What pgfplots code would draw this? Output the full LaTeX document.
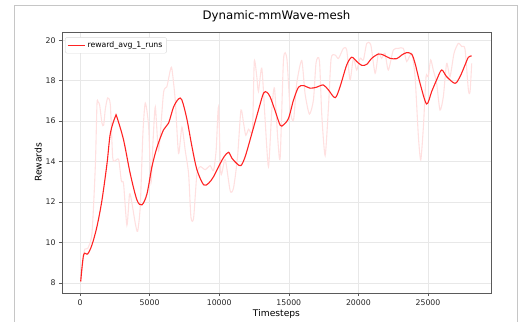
\documentclass[border=0pt]{standalone}
\usepackage{pgfplots}
\pgfplotsset{compat=1.18}
\usepackage{fontspec}
\setmainfont{DejaVu Sans}
\definecolor{smooth}{RGB}{255,35,35}
\definecolor{raw}{RGB}{255,224,224}
\definecolor{axgray}{RGB}{90,90,90}
\begin{document}
\begin{tikzpicture}
\path[use as bounding box] (0,0) rectangle (531bp,322bp);
\draw[gray!45, line width=0.8bp] (14bp,0) -- (14bp,317bp) -- (517bp,317bp) -- (517bp,0);
\begin{axis}[
  at={(62bp,29bp)}, anchor=south west,
  scale only axis, width=429bp, height=261bp,
  xmin=-1293, xmax=29526, ymin=7.5, ymax=20.41,
  xtick={0,5000,10000,15000,20000,25000},
  ytick={8,10,12,14,16,18,20},
  xtick pos=lower, ytick pos=left,
  scaled x ticks=false,
  xticklabel style={/pgf/number format/1000 sep={}},
  /pgf/number format/assume math mode=true,
  tick label style={font=\fontsize{7.8}{9}\selectfont, text=black!85},
  tick align=outside, major tick length=3bp,
  tick style={axgray, line width=0.6bp},
  axis line style={axgray, line width=0.8bp},
  grid=major, grid style={gray!18, line width=0.6bp},
  title={Dynamic-mmWave-mesh},
  title style={font=\fontsize{11.8}{13}\selectfont, at={(0.5,1)}, anchor=south, yshift=1bp},
  xlabel={Timesteps}, ylabel={Rewards},
  xlabel style={font=\fontsize{9.2}{11}\selectfont, yshift=3bp},
  ylabel style={font=\fontsize{9.2}{11}\selectfont, yshift=-3bp},
  legend style={at={(0.007,0.98)}, anchor=north west, font=\fontsize{7.8}{9}\selectfont,
    draw=gray!30, rounded corners=2bp, inner sep=2.2bp},
  legend cell align=left,
]
\addplot[raw, line width=1.1bp, forget plot, smooth, tension=0.4] coordinates {
(50,8.07)(310,9.6)(550,9.7)(860,10.45)(1100,13.75)(1220,16.85)(1300,16.95)(1410,16.8)(1580,15.9)(1700,15.8)(1820,16.6)(1990,17.15)(2180,16.8)(2350,14.2)(2540,14.05)(2780,14.1)(2970,13.05)(3130,12.9)(3370,10.85)(3560,12.4)(3730,11.95)(3970,10.95)(4140,10.55)(4330,11.8)(4520,15.4)(4690,16.9)(4930,15.75)(5100,12.95)(5240,14.9)(5410,16.7)(5650,14.55)(6000,17.4)(6240,17.7)(6480,18.5)(6600,18.6)(6840,17.05)(7080,14.4)(7320,15.7)(7560,14.55)(7800,13.4)(7970,11.25)(8160,11.2)(8400,13.4)(8640,13.75)(8990,13.6)(9350,13.8)(9590,13.55)(9780,14.55)(9950,16.7)(10120,13.4)(10430,14.1)(10790,12.55)(11030,12.7)(11320,14.25)(11560,16.55)(11750,15.9)(11910,15.3)(12110,15.6)(12390,15.55)(12520,18.95)(12700,18.2)(12820,17.47)(13060,18.62)(13300,16.05)(13540,13.75)(13780,16.55)(13970,17.63)(14210,15.1)(14380,14.2)(14620,19.05)(14860,19.1)(15100,16.55)(15340,16.05)(15570,17.87)(15930,19.0)(16170,17.35)(16480,16.35)(16770,17.05)(16960,18.9)(17200,19.0)(17370,16.3)(17610,14.3)(17850,16.7)(18040,19.1)(18330,19.27)(18570,19.1)(18920,19.6)(19160,19.52)(19400,18.04)(19640,19.11)(19880,18.53)(20120,19.11)(20360,19.03)(20600,19.85)(20890,19.77)(21200,18.37)(21440,19.36)(21670,19.11)(21910,19.36)(22150,18.53)(22510,19.52)(22870,19.6)(23230,19.6)(23470,18.95)(23830,19.36)(24070,18.2)(24310,15.24)(24480,14.08)(24670,15.73)(24860,18.2)(25020,18.2)(25190,19.03)(25380,18.53)(25620,17.87)(25860,16.55)(26100,17.2)(26340,18.86)(26580,18.2)(26870,19.36)(27180,19.85)(27420,19.69)(27660,19.56)(27900,17.55)(28020,17.46)(28140,18.86)
};
\addplot[smooth, color=smooth, line width=1.1bp, tension=0.5] coordinates {
(50,8.07)(260,9.39)(550,9.43)(860,9.88)(1220,10.79)(1580,12.1)(1940,13.9)(2180,15.4)(2540,16.23)(2650,16.2)(3130,15.07)(3610,13.4)(4090,12.1)(4450,11.86)(4810,12.4)(5170,13.75)(5530,14.7)(6000,15.57)(6360,15.9)(6720,16.7)(7080,17.1)(7320,17.05)(7680,16.1)(8040,14.75)(8400,13.6)(8880,12.85)(9240,12.93)(9590,13.25)(10070,13.9)(10360,14.25)(10670,14.46)(10910,14.17)(11270,13.9)(11560,13.8)(11870,14.25)(12350,15.4)(12820,16.55)(13180,17.38)(13420,17.43)(13660,17.2)(14000,16.55)(14380,15.8)(14620,15.82)(14980,16.14)(15340,17.05)(15700,17.68)(16050,17.76)(16530,17.63)(17000,17.68)(17480,17.79)(17850,17.54)(18330,17.16)(18680,17.7)(19160,18.78)(19520,19.16)(19880,18.95)(20240,18.76)(20600,18.81)(20960,19.11)(21440,19.32)(21800,19.27)(22270,19.11)(22750,19.09)(23110,19.27)(23470,19.39)(23830,19.31)(24070,18.86)(24430,17.87)(24900,16.85)(25260,17.46)(25620,18.04)(25980,18.53)(26340,18.2)(26940,17.87)(27300,18.2)(27660,18.78)(27900,19.16)(28140,19.23)
};
\addlegendentry{reward\_avg\_1\_runs}
\end{axis}
\end{tikzpicture}
\end{document}
